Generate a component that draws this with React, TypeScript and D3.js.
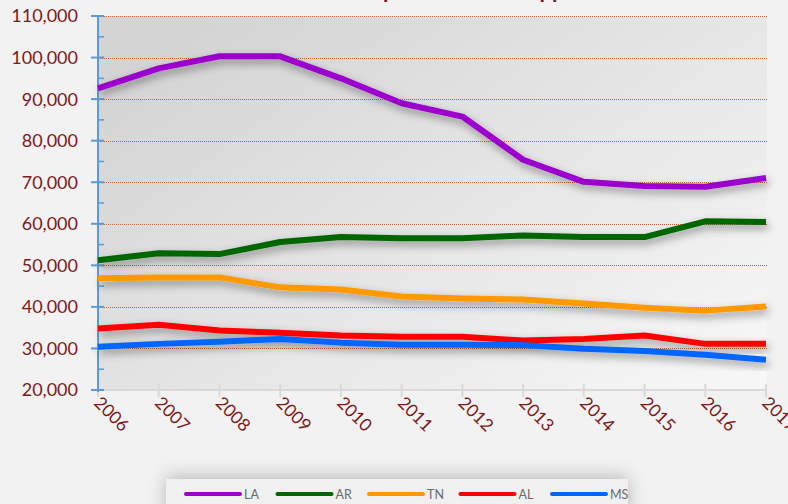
import React, { useRef, useEffect } from 'react';
import * as d3 from 'd3';

const years = [2006, 2007, 2008, 2009, 2010, 2011, 2012, 2013, 2014, 2015, 2016, 2017];
const laValues = [92600, 97400, 100300, 100300, 95000, 89000, 85800, 75400, 70100, 69100, 68900, 71000];
const arValues = [51200, 52900, 52700, 55600, 56800, 56500, 56500, 57200, 56800, 56800, 60600, 60400];
const tnValues = [46900, 47100, 47100, 44700, 44200, 42500, 42000, 41800, 40800, 39800, 39100, 40100];
const alValues = [34800, 35700, 34300, 33800, 33100, 32800, 32800, 31900, 32300, 33100, 31100, 31100];
const msValues = [30400, 31100, 31600, 32300, 31400, 30900, 30900, 30800, 29900, 29400, 28500, 27300];
const yTicks = [20000, 30000, 40000, 50000, 60000, 70000, 80000, 90000, 100000, 110000];

const series = [
  { name: 'LA', values: laValues, color: '#9b00cc' },
  { name: 'AR', values: arValues, color: '#006600' },
  { name: 'TN', values: tnValues, color: '#ff9900' },
  { name: 'AL', values: alValues, color: '#ff0000' },
  { name: 'MS', values: msValues, color: '#0066ff' },
];

const width = 788;
const height = 504;

function App() {
  const svgRef = useRef(null);

  useEffect(() => {
    const svg = d3.select(svgRef.current);
    svg.selectAll('*').remove();
    svg.attr('width', width).attr('height', height);

    const margin = { top: 16, right: 21, bottom: 116, left: 98 };
    const innerWidth = width - margin.left - margin.right;
    const innerHeight = height - margin.top - margin.bottom;

    const defs = svg.append('defs');
    const grad = defs.append('linearGradient')
      .attr('id', 'plotBg')
      .attr('x1', 0).attr('y1', 0.2).attr('x2', 1).attr('y2', 1);
    grad.append('stop').attr('offset', '0%').attr('stop-color', '#d4d4d4');
    grad.append('stop').attr('offset', '100%').attr('stop-color', '#f8f8f8');

    const shadow = defs.append('filter')
      .attr('id', 'lineShadow')
      .attr('x', '-10%').attr('y', '-50%').attr('width', '120%').attr('height', '200%');
    shadow.append('feDropShadow')
      .attr('dx', 2).attr('dy', 4).attr('stdDeviation', 4)
      .attr('flood-color', '#000').attr('flood-opacity', 0.4);

    const boxShadow = defs.append('filter')
      .attr('id', 'boxShadow')
      .attr('x', '-20%').attr('y', '-100%').attr('width', '140%').attr('height', '300%');
    boxShadow.append('feDropShadow')
      .attr('dx', 0).attr('dy', -2).attr('stdDeviation', 9)
      .attr('flood-color', '#000').attr('flood-opacity', 0.25);

    // page background
    svg.append('rect').attr('width', width).attr('height', height).attr('fill', '#f2f2f2');

    // title (clipped off the top, only descenders show)
    const title = svg.append('text')
      .attr('x', 0)
      .attr('y', -2)
      .attr('text-anchor', 'start')
      .attr('font-family', 'Lato, sans-serif')
      .attr('font-weight', 'bold')
      .attr('font-size', 22)
      .attr('fill', '#7b1a1a')
      .text('Caseload per State with Approved Services');
    const tnode = title.node();
    try {
      const pX = tnode.getStartPositionOfChar(9).x;
      title.attr('x', 383 - pX);
    } catch (e) {
      title.attr('x', 300);
    }

    const g = svg.append('g').attr('transform', `translate(${margin.left},${margin.top})`);

    const x = d3.scalePoint().domain(years.map(String)).range([0, innerWidth - 1]);
    const y = d3.scaleLinear().domain([20000, 110000]).range([innerHeight + 2, 0]);

    g.append('rect')
      .attr('width', innerWidth)
      .attr('height', innerHeight + 2)
      .attr('fill', 'url(#plotBg)');

    // Grid lines
    g.append('g')
      .selectAll('line')
      .data(yTicks.slice(1))
      .enter()
      .append('line')
      .attr('x1', 0)
      .attr('x2', innerWidth)
      .attr('y1', d => Math.round(y(d)) + 0.5)
      .attr('y2', d => Math.round(y(d)) + 0.5)
      .attr('stroke', '#b86a45')
      .attr('stroke-width', 1)
      .attr('stroke-dasharray', '1,1');

    // X axis
    const xAxis = g.append('g').attr('transform', `translate(0,${innerHeight + 2})`);
    xAxis.append('line')
      .attr('x1', 0).attr('x2', innerWidth)
      .attr('stroke', '#d9d9d9').attr('stroke-width', 2);
    xAxis.selectAll('.xtick')
      .data(years)
      .enter()
      .append('line')
      .attr('x1', d => x(String(d)))
      .attr('x2', d => x(String(d)))
      .attr('y1', -6)
      .attr('y2', 7)
      .attr('stroke', '#d9d9d9')
      .attr('stroke-width', 2);
    xAxis.selectAll('.xlabel')
      .data(years)
      .enter()
      .append('text')
      .attr('transform', d => `translate(${x(String(d)) - 5},${14}) rotate(45)`)
      .attr('text-anchor', 'start')
      .attr('font-family', 'Lato, sans-serif')
      .attr('font-size', 17.5)
      .attr('fill', '#7b1a1a')
      .text(d => d);

    // Y axis
    const yAxis = g.append('g');
    yAxis.append('line')
      .attr('x1', 0).attr('x2', 0)
      .attr('y1', y(110000)).attr('y2', y(20000) + 2)
      .attr('stroke', '#5b9bd5').attr('stroke-width', 2);
    yAxis.selectAll('.major')
      .data(yTicks)
      .enter()
      .append('line')
      .attr('x1', -7).attr('x2', 6)
      .attr('y1', d => y(d)).attr('y2', d => y(d))
      .attr('stroke', '#5b9bd5').attr('stroke-width', 2);
    yAxis.selectAll('.minor')
      .data(yTicks.slice(1).map(d => d - 5000))
      .enter()
      .append('line')
      .attr('x1', 0).attr('x2', 6)
      .attr('y1', d => y(d)).attr('y2', d => y(d))
      .attr('stroke', '#5b9bd5').attr('stroke-width', 1.5);
    yAxis.selectAll('text')
      .data(yTicks)
      .enter()
      .append('text')
      .attr('x', -20)
      .attr('y', d => y(d))
      .attr('dy', '0.36em')
      .attr('text-anchor', 'end')
      .attr('font-family', 'Lato, sans-serif')
      .attr('font-size', 18)
      .attr('fill', '#7b1a1a')
      .text(d => d3.format(',')(d));

    // Lines
    const line = d3.line()
      .x((d, i) => x(String(years[i])))
      .y(d => y(d));

    series.forEach(s => {
      g.append('path')
        .datum(s.values)
        .attr('d', line)
        .attr('fill', 'none')
        .attr('stroke', s.color)
        .attr('stroke-width', 6)
        .attr('stroke-linejoin', 'round')
        .attr('filter', 'url(#lineShadow)');
    });

    // Legend
    const legend = svg.append('g').attr('transform', 'translate(166,479)');
    legend.append('rect')
      .attr('width', 462)
      .attr('height', 40)
      .attr('fill', '#f0f0f0')
      .attr('filter', 'url(#boxShadow)');

    series.forEach((s, i) => {
      const item = legend.append('g').attr('transform', `translate(${20 + i * 91.5},15)`);
      item.append('line')
        .attr('x1', 0).attr('x2', 54)
        .attr('stroke', s.color)
        .attr('stroke-width', 4)
        .attr('stroke-linecap', 'round');
      item.append('text')
        .attr('x', 58)
        .attr('y', 0)
        .attr('dy', '0.36em')
        .attr('font-family', 'Lato, sans-serif')
        .attr('font-size', 12.5)
        .attr('fill', '#6b6b6b')
        .text(s.name);
    });
  }, []);

  return (
    <div style={{ position: 'absolute', left: 0, top: 0, width, height, overflow: 'hidden' }}>
      <svg ref={svgRef} style={{ display: 'block' }}></svg>
    </div>
  );
}

export default App;
